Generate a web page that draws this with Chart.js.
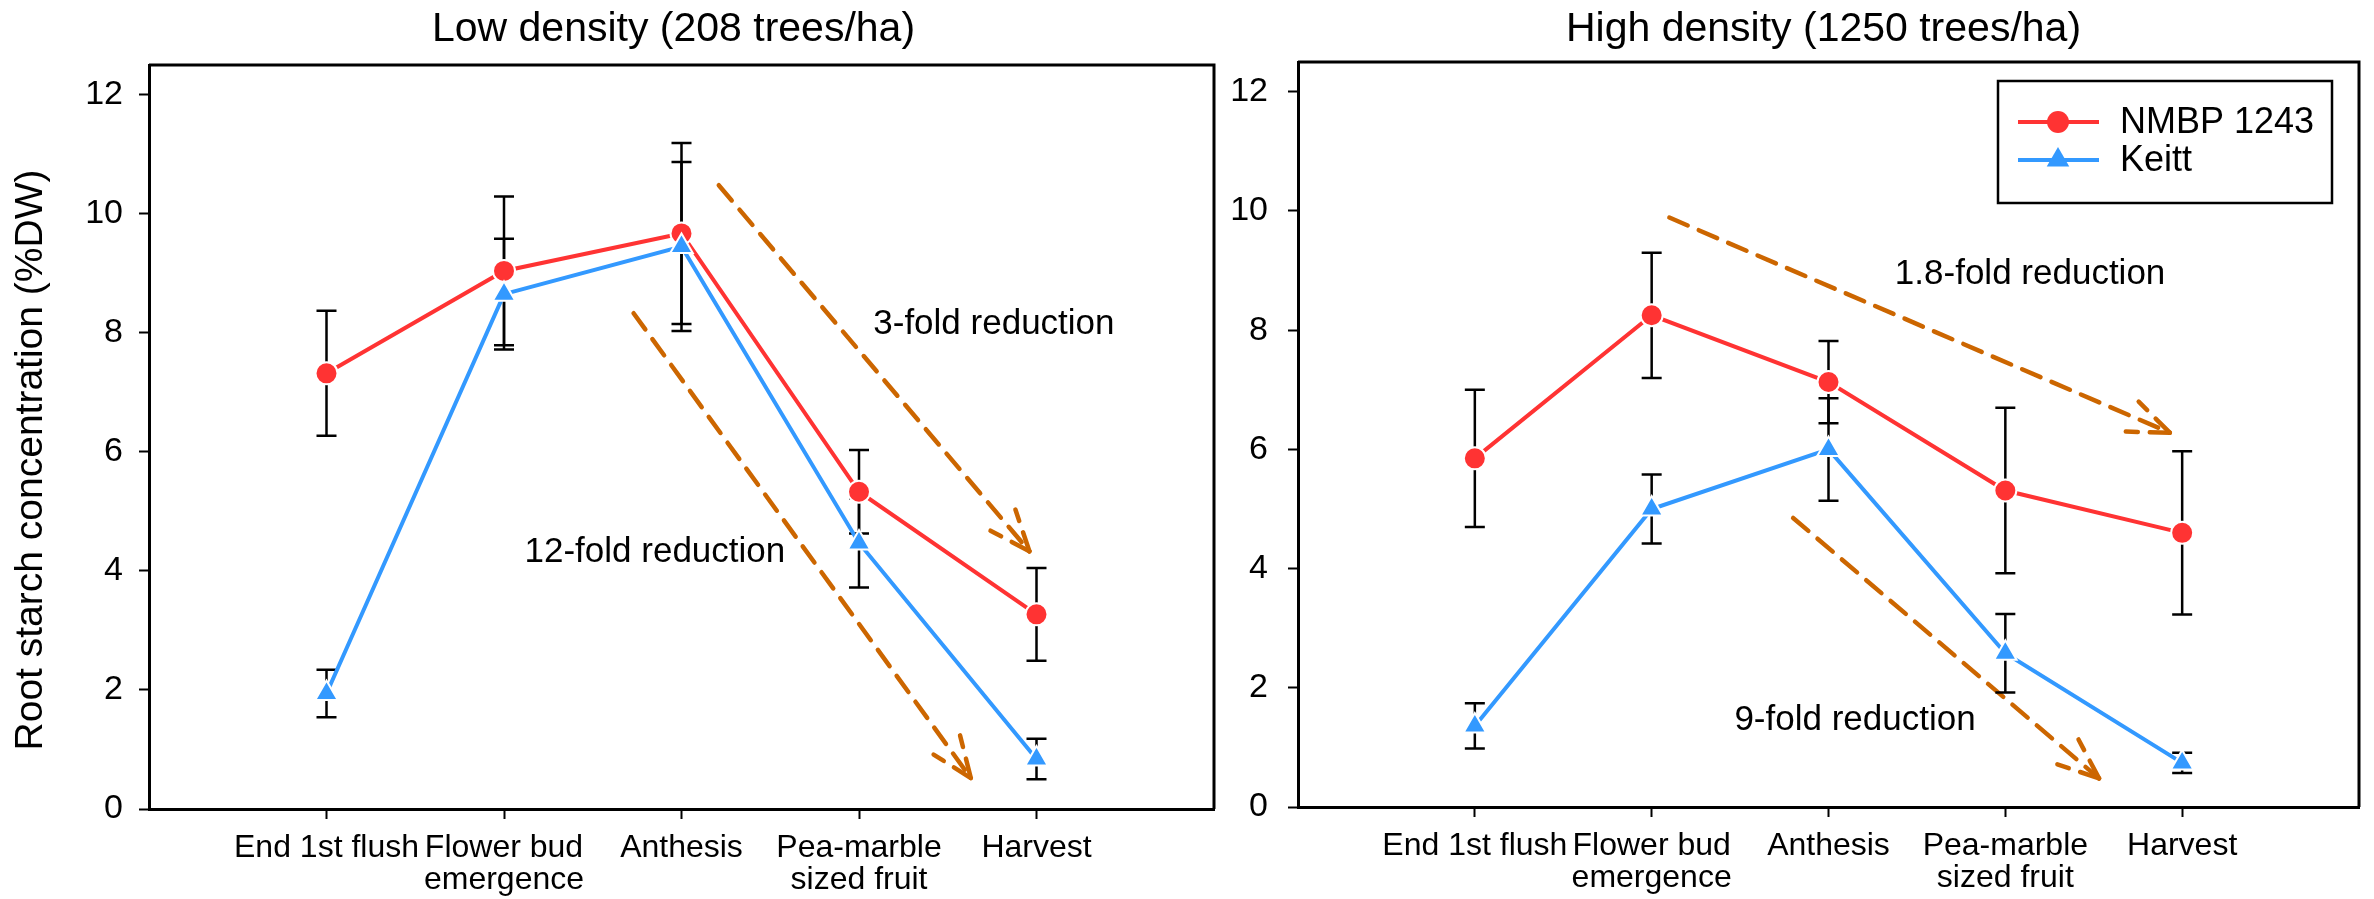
<!DOCTYPE html>
<html>
<head>
<meta charset="utf-8">
<script src="https://cdn.jsdelivr.net/npm/chart.js@4.4.1/dist/chart.umd.min.js"></script>
<style>
  html, body { margin: 0; padding: 0; background: #fff; }
  #wrap { position: relative; width: 2374px; height: 899px; }
  canvas { position: absolute; top: 0; }
  #low { left: 0; }
  #high { left: 1230px; }
</style>
</head>
<body>
<div id="wrap">
  <canvas id="low" width="1230" height="899"></canvas>
  <canvas id="high" width="1144" height="899"></canvas>
</div>
<script>
// stages (x = 1..5 on a 0..6 axis)
const stages = ['End 1st flush', ['Flower bud', 'emergence'], 'Anthesis', ['Pea-marble', 'sized fruit'], 'Harvest'];
const stagePos = [1, 2, 3, 4, 5];
const yTicks = [0, 2, 4, 6, 8, 10, 12];

// low density (208 trees/ha)
const lowNmbp = [7.32, 9.04, 9.67, 5.33, 3.27];
const lowNmbpErr = [1.05, 1.25, 1.52, 0.70, 0.78];
const lowKeitt = [1.94, 8.65, 9.45, 4.47, 0.84];
const lowKeittErr = [0.40, 0.93, 1.42, 0.75, 0.34];

// high density (1250 trees/ha)
const highNmbp = [5.85, 8.25, 7.13, 5.31, 4.60];
const highNmbpErr = [1.15, 1.05, 0.69, 1.39, 1.37];
const highKeitt = [1.36, 5.00, 6.00, 2.58, 0.74];
const highKeittErr = [0.38, 0.58, 0.86, 0.66, 0.17];

// dashed reduction arrows [x1, y1, x2, y2] in data units, with their notes
const lowArrows = [[3.21, 10.48, 4.96, 4.33], [2.73, 8.33, 4.63, 0.52]];
const lowNotes = [['3-fold reduction', 4.76, 8.15], ['12-fold reduction', 2.85, 4.32]];
const highArrows = [[2.10, 9.89, 4.93, 6.28], [2.80, 4.85, 4.53, 0.48]];
const highNotes = [['1.8-fold reduction', 4.14, 8.94], ['9-fold reduction', 3.15, 1.46]];

const RED = '#FF3333';
const BLUE = '#3399FF';
const ARROW = '#CC6600';
const FONT = '"Liberation Sans", Arial, sans-serif';

function pts(vals) {
    return stagePos.map((x, i) => ({ x: x, y: vals[i] }));
}

function marker(ctx, style, x, y, r, color) {
    ctx.save();
    ctx.fillStyle = color;
    ctx.beginPath();
    if (style === 'triangle') {
        ctx.moveTo(x, y - r);
        ctx.lineTo(x + r * 0.866, y + r / 2);
        ctx.lineTo(x - r * 0.866, y + r / 2);
        ctx.closePath();
    } else {
        ctx.arc(x, y, r, 0, Math.PI * 2);
    }
    ctx.fill();
    ctx.restore();
}

function drawArrow(ctx, x1, y1, x2, y2) {
    ctx.save();
    ctx.strokeStyle = ARROW;
    ctx.lineWidth = 4.5;
    ctx.lineCap = 'round';
    ctx.setLineDash([20, 12]);
    ctx.beginPath();
    ctx.moveTo(x1, y1);
    ctx.lineTo(x2, y2);
    ctx.stroke();
    const a = Math.atan2(y2 - y1, x2 - x1);
    [-0.38, 0.38].forEach(w => {
        ctx.beginPath();
        ctx.moveTo(x2, y2);
        ctx.lineTo(x2 - 44 * Math.cos(a + w), y2 - 44 * Math.sin(a + w));
        ctx.stroke();
    });
    ctx.restore();
}

// frame, error bars, arrows, titles, notes and legend
const panelPlugin = {
    id: 'panel',
    beforeDatasetsDraw(chart, args, opts) {
        const ctx = chart.ctx;
        const ca = chart.chartArea;
        const xs = chart.scales.x, ys = chart.scales.y;

        ctx.save();
        ctx.strokeStyle = '#000';
        ctx.lineWidth = 3;
        ctx.beginPath();
        ctx.moveTo(ca.left, ca.top);
        ctx.lineTo(ca.right, ca.top);
        ctx.lineTo(ca.right, ca.bottom);
        ctx.stroke();
        ctx.restore();

        opts.arrows.forEach(a => {
            drawArrow(ctx, xs.getPixelForValue(a[0]), ys.getPixelForValue(a[1]),
                xs.getPixelForValue(a[2]), ys.getPixelForValue(a[3]));
        });

        ctx.save();
        ctx.strokeStyle = '#000';
        ctx.lineWidth = 2.5;
        chart.data.datasets.forEach((ds, di) => {
            const err = opts.errors[di];
            ds.data.forEach((p, i) => {
                const x = xs.getPixelForValue(p.x);
                const yt = ys.getPixelForValue(p.y + err[i]);
                const yb = ys.getPixelForValue(p.y - err[i]);
                ctx.beginPath();
                ctx.moveTo(x, yt); ctx.lineTo(x, yb);
                ctx.moveTo(x - 10, yt); ctx.lineTo(x + 10, yt);
                ctx.moveTo(x - 10, yb); ctx.lineTo(x + 10, yb);
                ctx.stroke();
            });
        });
        ctx.restore();
    },
    afterDraw(chart, args, opts) {
        const ctx = chart.ctx;
        const ca = chart.chartArea;
        const xs = chart.scales.x, ys = chart.scales.y;

        ctx.save();
        ctx.fillStyle = '#000';
        ctx.font = '41px ' + FONT;
        ctx.textAlign = 'center';
        ctx.textBaseline = 'alphabetic';
        ctx.fillText(opts.title, (ca.left + ca.right) / 2 + opts.titleShift, 41);

        ctx.font = '35px ' + FONT;
        ctx.textBaseline = 'middle';
        opts.notes.forEach(n => {
            ctx.fillText(n[0], xs.getPixelForValue(n[1]), ys.getPixelForValue(n[2]));
        });

        if (opts.yTitle) {
            ctx.save();
            ctx.translate(31, 460);
            ctx.rotate(-Math.PI / 2);
            ctx.font = '39px ' + FONT;
            ctx.fillText(opts.yTitle, 0, 0);
            ctx.restore();
        }

        if (opts.legend) {
            const bx = ca.right - 27 - 334, by = ca.top + 19;
            ctx.lineWidth = 2.5;
            ctx.strokeStyle = '#000';
            ctx.strokeRect(bx, by, 334, 122);
            ctx.textAlign = 'left';
            ctx.font = '36px ' + FONT;
            chart.data.datasets.forEach((ds, di) => {
                const y = by + 41 + di * 38;
                ctx.strokeStyle = ds.borderColor;
                ctx.lineWidth = 4;
                ctx.beginPath();
                ctx.moveTo(bx + 20, y); ctx.lineTo(bx + 101, y);
                ctx.stroke();
                marker(ctx, ds.pointStyle, bx + 60, y, ds.pointRadius, ds.borderColor);
                ctx.fillStyle = '#000';
                ctx.fillText(ds.label, bx + 122, y + 1);
            });
        }
        ctx.restore();
    }
};

function makePanel(id, cfg) {
    const axisGrid = {
        display: true,
        drawOnChartArea: false,
        drawTicks: true,
        tickLength: 10,
        tickWidth: 2,
        tickColor: '#000'
    };
    return new Chart(document.getElementById(id), {
        type: 'line',
        data: {
            datasets: [
                {
                    label: 'NMBP 1243',
                    data: pts(cfg.nmbp),
                    borderColor: RED,
                    borderWidth: 4,
                    pointStyle: 'circle',
                    pointRadius: 11,
                    pointBackgroundColor: RED,
                    pointBorderColor: '#fff',
                    pointBorderWidth: 2,
                    tension: 0,
                    order: 1
                },
                {
                    label: 'Keitt',
                    data: pts(cfg.keitt),
                    borderColor: BLUE,
                    borderWidth: 4,
                    pointStyle: 'triangle',
                    pointRadius: 13,
                    pointBackgroundColor: BLUE,
                    pointBorderColor: '#fff',
                    pointBorderWidth: 2,
                    tension: 0,
                    order: 0
                }
            ]
        },
        options: {
            responsive: false,
            animation: false,
            devicePixelRatio: 1,
            layout: { padding: { top: cfg.top, right: cfg.right, left: 0, bottom: 0 } },
            plugins: {
                legend: { display: false },
                tooltip: { enabled: false },
                panel: {
                    title: cfg.title,
                    titleShift: cfg.titleShift,
                    yTitle: cfg.yTitle,
                    legend: cfg.legend,
                    arrows: cfg.arrows,
                    notes: cfg.notes,
                    errors: [cfg.nmbpErr, cfg.keittErr]
                }
            },
            scales: {
                x: {
                    type: 'linear',
                    min: 0,
                    max: 6,
                    afterBuildTicks: s => { s.ticks = stagePos.map(v => ({ value: v })); },
                    afterFit: s => { s.height = cfg.xh; },
                    ticks: {
                        callback: (v, i) => stages[i],
                        autoSkip: false,
                        maxRotation: 0,
                        padding: 13,
                        color: '#000',
                        font: { family: FONT, size: 32, lineHeight: 1.0 }
                    },
                    grid: axisGrid,
                    border: { display: true, color: '#000', width: 3 }
                },
                y: {
                    min: 0,
                    max: 12.5,
                    afterBuildTicks: s => { s.ticks = yTicks.map(v => ({ value: v })); },
                    afterFit: s => { s.width = cfg.yw; },
                    ticks: {
                        padding: cfg.ypad,
                        color: '#000',
                        font: { family: FONT, size: 34 }
                    },
                    grid: axisGrid,
                    border: { display: true, color: '#000', width: 3 }
                }
            }
        },
        plugins: [panelPlugin]
    });
}

makePanel('low', {
    title: 'Low density (208 trees/ha)', titleShift: -8,
    yTitle: 'Root starch concentration (%DW)', legend: false,
    nmbp: lowNmbp, nmbpErr: lowNmbpErr, keitt: lowKeitt, keittErr: lowKeittErr,
    arrows: lowArrows, notes: lowNotes,
    top: 65, right: 16, xh: 90, yw: 149, ypad: 16
});

makePanel('high', {
    title: 'High density (1250 trees/ha)', titleShift: -5,
    yTitle: null, legend: true,
    nmbp: highNmbp, nmbpErr: highNmbpErr, keitt: highKeitt, keittErr: highKeittErr,
    arrows: highArrows, notes: highNotes,
    top: 62, right: 6, xh: 92, yw: 68, ypad: 20
});
</script>
</body>
</html>
